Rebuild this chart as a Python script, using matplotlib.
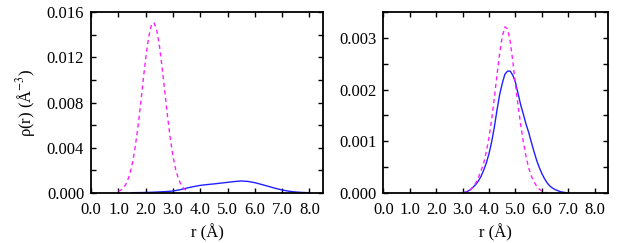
import numpy as np
import matplotlib
matplotlib.use("Agg")
import matplotlib.pyplot as plt
from matplotlib.ticker import MultipleLocator, FormatStrFormatter

# left panel
left_pink_r = [1.0, 1.1, 1.2, 1.3, 1.4, 1.5, 1.6, 1.7, 1.8, 1.9, 2.0, 2.1, 2.2,
               2.3, 2.4, 2.5, 2.6, 2.7, 2.8, 2.9, 3.0, 3.1, 3.2, 3.3, 3.4, 3.5, 3.6]
left_pink_rho = [0.00012, 0.00024, 0.00047, 0.00087, 0.00151, 0.00247, 0.00382,
                 0.00556, 0.00761, 0.00983, 0.01196, 0.01371, 0.01481, 0.01510,
                 0.01447, 0.01308, 0.01113, 0.00894, 0.00676, 0.00481, 0.00323,
                 0.00204, 0.00122, 0.00069, 0.00036, 0.00018, 0.00008]

left_blue_r = [1.5, 1.75, 2.0, 2.25, 2.5, 2.75, 3.0, 3.25, 3.5, 3.75, 4.0, 4.25,
               4.5, 4.75, 5.0, 5.25, 5.5, 5.75, 6.0, 6.25, 6.5, 6.75, 7.0, 7.25,
               7.5, 7.75, 8.0]
left_blue_rho = [0.0, 0.00001, 0.00002, 0.00004, 0.00007, 0.00010, 0.00015,
                 0.00026, 0.00041, 0.00054, 0.00065, 0.00072, 0.00078, 0.00085,
                 0.00092, 0.00099, 0.00104, 0.00100, 0.00089, 0.00073, 0.00056,
                 0.00039, 0.00024, 0.00013, 0.00006, 0.00002, 0.0]

# right panel
right_pink_r = [3.0, 3.1, 3.2, 3.3, 3.4, 3.5, 3.6, 3.7, 3.8, 3.9, 4.0, 4.1, 4.2,
                4.3, 4.4, 4.5, 4.6, 4.7, 4.8, 4.9, 5.0, 5.1, 5.2, 5.3, 5.4, 5.5,
                5.6, 5.7, 5.8, 5.9, 6.0, 6.1, 6.2]
right_pink_rho = [0.0, 0.00001, 0.00003, 0.00006, 0.00011, 0.00019, 0.00030,
                  0.00043, 0.00058, 0.00080, 0.00108, 0.00142, 0.00184, 0.00228,
                  0.00270, 0.00303, 0.00322, 0.00318, 0.00294, 0.00255, 0.00210,
                  0.00168, 0.00131, 0.00098, 0.00070, 0.00048, 0.00032, 0.00021,
                  0.00013, 0.00007, 0.00003, 0.00001, 0.0]

right_blue_r = [3.0, 3.1, 3.2, 3.3, 3.4, 3.5, 3.6, 3.7, 3.8, 3.9, 4.0, 4.1, 4.2,
                4.3, 4.4, 4.5, 4.6, 4.7, 4.8, 4.9, 5.0, 5.1, 5.2, 5.3, 5.4, 5.5,
                5.6, 5.7, 5.8, 5.9, 6.0, 6.1, 6.2, 6.3, 6.4, 6.5, 6.6, 6.7, 6.8,
                6.9, 7.0]
right_blue_rho = [0.0, 0.00001, 0.00003, 0.00006, 0.00011, 0.00016, 0.00023,
                  0.00032, 0.00044, 0.00058, 0.00076, 0.00099, 0.00127, 0.00160,
                  0.00190, 0.00212, 0.00230, 0.00236, 0.00236, 0.00228, 0.00214,
                  0.00192, 0.00170, 0.00152, 0.00133, 0.00117, 0.00098, 0.00080,
                  0.00063, 0.00049, 0.00037, 0.00027, 0.00019, 0.00013, 0.00009,
                  0.00006, 0.00004, 0.00002, 0.00001, 0.0, 0.0]

plt.rcParams["font.family"] = ["Liberation Serif", "DejaVu Serif"]
plt.rcParams["mathtext.fontset"] = "stix"

fig = plt.figure(figsize=(6.22, 2.43), dpi=100)
ax1 = fig.add_axes([0.1466, 0.207, 0.3727, 0.742])
ax2 = fig.add_axes([0.6162, 0.207, 0.3613, 0.742])

blue = "#2020ff"
pink = "#ff20ff"

ax1.plot(left_blue_r, left_blue_rho, color=blue, lw=1.0)
ax1.plot(left_pink_r, left_pink_rho, color=pink, lw=1.0, ls=(0, (3, 2.5)))
ax2.plot(right_blue_r, right_blue_rho, color=blue, lw=1.0)
ax2.plot(right_pink_r, right_pink_rho, color=pink, lw=1.0, ls=(0, (3, 2.5)))

ax1.set_ylim(0, 0.016)
ax1.yaxis.set_major_locator(MultipleLocator(0.004))
ax1.yaxis.set_minor_locator(MultipleLocator(0.002))
ax1.yaxis.set_major_formatter(FormatStrFormatter("%.3f"))

ax2.set_ylim(0, 0.0035)
ax2.yaxis.set_major_locator(MultipleLocator(0.001))
ax2.yaxis.set_minor_locator(MultipleLocator(0.0005))
ax2.yaxis.set_major_formatter(FormatStrFormatter("%.3f"))

for ax in (ax1, ax2):
    ax.set_xlim(0, 8.5)
    ax.xaxis.set_major_locator(MultipleLocator(1.0))
    ax.xaxis.set_major_formatter(FormatStrFormatter("%.1f"))
    ax.tick_params(which="both", direction="in", top=True, right=True,
                   length=3.5, width=1.0, labelsize=12, pad=5)
    ax.tick_params(axis="x", pad=7)
    for sp in ax.spines.values():
        sp.set_linewidth(1.3)
    ax.set_xlabel("r (Å)", fontsize=12, labelpad=4)

ax1.set_ylabel(r"ρ(r) (Å$^{-3}$)", fontsize=12, labelpad=6)

fig.savefig("out.png", dpi=100)
